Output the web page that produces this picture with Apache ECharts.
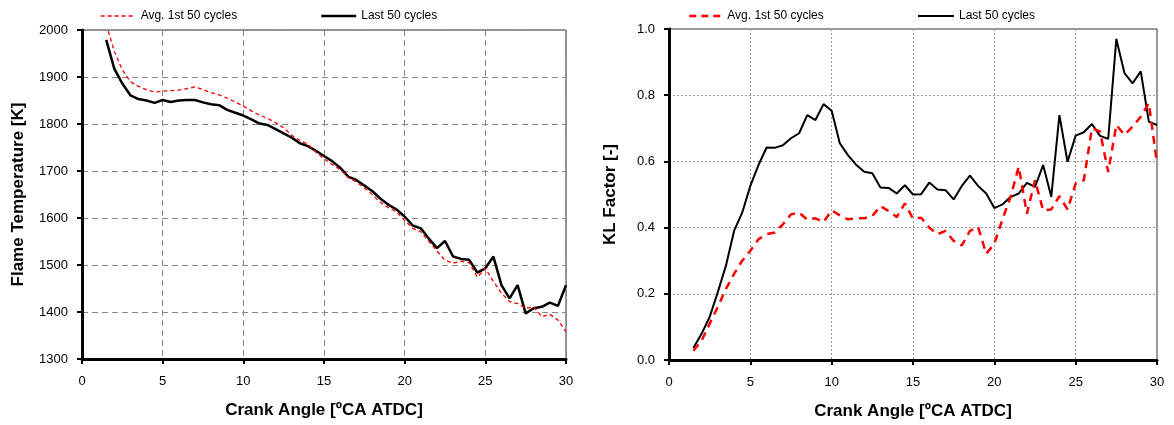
<!DOCTYPE html>
<html>
<head>
<meta charset="utf-8">
<script src="https://cdn.jsdelivr.net/npm/echarts/dist/echarts.min.js"></script>
<style>
html,body{margin:0;padding:0;background:#fff;}
#c{width:1174px;height:425px;}
</style>
</head>
<body>
<div id="c"></div>
<script>
// Crank angle [deg ATDC]
const crankAngle = [1.5,2,2.5,3,3.5,4,4.5,5,5.5,6,6.5,7,7.5,8,8.5,9,9.5,10,10.5,11,11.5,12,12.5,13,13.5,14,14.5,15,15.5,16,16.5,17,17.5,18,18.5,19,19.5,20,20.5,21,21.5,22,22.5,23,23.5,24,24.5,25,25.5,26,26.5,27,27.5,28,28.5,29,29.5,30];

// Flame temperature [K]
const tempAvgFirst50 = [2012,1955,1915,1890,1880,1873,1868,1870,1871,1872,1875,1879,1873,1867,1862,1855,1847,1838,1828,1819,1812,1803,1792,1776,1765,1757,1740,1726,1714,1703,1686,1677,1664,1650,1633,1622,1613,1595,1578,1571,1550,1530,1510,1504,1508,1505,1474,1493,1465,1440,1422,1418,1408,1411,1390,1395,1383,1358];
const tempLast50 = [1979,1918,1886,1861,1853,1850,1845,1851,1847,1850,1851,1851,1846,1842,1840,1830,1824,1818,1810,1801,1798,1789,1780,1771,1759,1753,1743,1732,1721,1707,1688,1681,1669,1657,1641,1628,1618,1603,1584,1578,1556,1536,1551,1518,1513,1511,1484,1493,1518,1457,1429,1457,1397,1408,1411,1420,1413,1457];

// KL factor [-]
const klAvgFirst50 = [0.028,0.058,0.11,0.16,0.215,0.26,0.3,0.33,0.365,0.38,0.385,0.41,0.44,0.445,0.424,0.428,0.417,0.452,0.437,0.425,0.428,0.428,0.435,0.465,0.45,0.432,0.473,0.427,0.43,0.4,0.38,0.39,0.36,0.346,0.39,0.402,0.321,0.351,0.425,0.493,0.584,0.442,0.543,0.452,0.455,0.495,0.455,0.533,0.543,0.7,0.69,0.568,0.71,0.68,0.705,0.735,0.776,0.594];
const klLast50 = [0.036,0.079,0.13,0.205,0.285,0.39,0.445,0.526,0.589,0.642,0.641,0.649,0.67,0.685,0.74,0.725,0.773,0.753,0.655,0.619,0.59,0.569,0.564,0.521,0.52,0.503,0.528,0.5,0.501,0.536,0.515,0.513,0.485,0.526,0.557,0.526,0.503,0.459,0.47,0.493,0.503,0.535,0.523,0.589,0.493,0.74,0.599,0.678,0.688,0.713,0.677,0.668,0.97,0.867,0.836,0.872,0.72,0.71];

const xTicks = [0,5,10,15,20,25,30];
const tempTicks = [1300,1400,1500,1600,1700,1800,1900,2000];
const klTicks = [0,0.2,0.4,0.6,0.8,1.0];

const nameAvg = 'Avg. 1st 50 cycles';
const nameLast = 'Last 50 cycles';
const xTitle = 'Crank Angle [ºCA ATDC]';

const FONT = '"Liberation Sans", Arial, sans-serif';
const pair = (xs, ys) => xs.map((x, i) => [x, ys[i]]);

const chart = echarts.init(document.getElementById('c'), null, {renderer: 'canvas'});

function xAxisCfg(gridIndex, gridStyle) {
  return {
    type: 'value', gridIndex, min: xTicks[0], max: xTicks[xTicks.length - 1], interval: 5,
    name: xTitle, nameLocation: 'middle', nameGap: 43,
    nameTextStyle: {fontFamily: FONT, fontSize: 17, fontWeight: 'bold', color: '#000'},
    axisLine: {show: true, onZero: false, lineStyle: {color: '#000', width: 3}},
    axisTick: {show: true, inside: false, length: 5, lineStyle: {color: '#000', width: 2}},
    axisLabel: {fontFamily: FONT, fontSize: 13, color: '#000', margin: 16},
    splitLine: {show: true, lineStyle: gridStyle}
  };
}

const leftGrid = {color: '#888', width: 1, type: [6, 4]};
const rightGrid = {color: '#999', width: 1, type: [2, 2]};

function legendCfg(name, left, width, ls) {
  return {
    data: [name], left, top: 5, itemWidth: width, itemHeight: 10, itemGap: 5,
    textStyle: {fontFamily: FONT, fontSize: 12, color: '#000'},
    itemStyle: {opacity: 0, borderWidth: 0},
    lineStyle: ls
  };
}

const option = {
  animation: false,
  backgroundColor: '#fff',
  grid: [
    {left: 82, right: 608, top: 30, bottom: 66, show: true, borderColor: '#333', borderWidth: 1},
    {left: 669, right: 17, top: 29, bottom: 65, show: true, borderColor: '#333', borderWidth: 1}
  ],
  legend: [
    legendCfg(nameAvg, 95, 35, {color: '#ff0000', width: 1.3, type: [4, 3]}),
    legendCfg(nameLast, 315, 35, {color: '#000', width: 2.5, type: 'solid'}),
    legendCfg(nameAvg, 683, 33, {color: '#ff0000', width: 2.5, type: [7, 5]}),
    legendCfg(nameLast, 912, 36, {color: '#000', width: 2, type: 'solid'})
  ],
  xAxis: [xAxisCfg(0, leftGrid), xAxisCfg(1, rightGrid)],
  yAxis: [
    {
      type: 'value', gridIndex: 0, min: tempTicks[0], max: tempTicks[tempTicks.length - 1], interval: 100,
      name: 'Flame Temperature [K]', nameLocation: 'middle', nameGap: 55,
      nameTextStyle: {fontFamily: FONT, fontSize: 17, fontWeight: 'bold', color: '#000'},
      axisLine: {show: true, onZero: false, lineStyle: {color: '#000', width: 3}},
      axisTick: {show: true, length: 5, lineStyle: {color: '#000', width: 2}},
      axisLabel: {fontFamily: FONT, fontSize: 13, color: '#000', margin: 14, formatter: v => String(v)},
      splitLine: {show: true, lineStyle: leftGrid}
    },
    {
      type: 'value', gridIndex: 1, min: klTicks[0], max: klTicks[klTicks.length - 1], interval: 0.2,
      name: 'KL Factor [-]', nameLocation: 'middle', nameGap: 50,
      nameTextStyle: {fontFamily: FONT, fontSize: 17, fontWeight: 'bold', color: '#000'},
      axisLine: {show: true, onZero: false, lineStyle: {color: '#000', width: 3}},
      axisTick: {show: true, length: 5, lineStyle: {color: '#000', width: 2}},
      axisLabel: {fontFamily: FONT, fontSize: 13, color: '#000', margin: 14, formatter: v => v.toFixed(1)},
      splitLine: {show: true, lineStyle: rightGrid}
    }
  ],
  series: [
    {name: nameAvg, type: 'line', xAxisIndex: 0, yAxisIndex: 0, data: pair(crankAngle, tempAvgFirst50),
     showSymbol: false, symbol: 'none', clip: true, z: 3,
     lineStyle: {color: '#ff0000', width: 1.3, type: [4, 3]}, itemStyle: {color: '#ff0000'}},
    {name: nameLast, type: 'line', xAxisIndex: 0, yAxisIndex: 0, data: pair(crankAngle, tempLast50),
     showSymbol: false, symbol: 'none', clip: true, z: 2,
     lineStyle: {color: '#000', width: 2.5}, itemStyle: {color: '#000'}},
    {name: nameAvg, type: 'line', xAxisIndex: 1, yAxisIndex: 1, data: pair(crankAngle, klAvgFirst50),
     showSymbol: false, symbol: 'none', clip: true, z: 3,
     lineStyle: {color: '#ff0000', width: 2.5, type: [8, 6]}, itemStyle: {color: '#ff0000'}},
    {name: nameLast, type: 'line', xAxisIndex: 1, yAxisIndex: 1, data: pair(crankAngle, klLast50),
     showSymbol: false, symbol: 'none', clip: true, z: 2,
     lineStyle: {color: '#000', width: 2}, itemStyle: {color: '#000'}}
  ]
};
chart.setOption(option);
</script>
</body>
</html>
